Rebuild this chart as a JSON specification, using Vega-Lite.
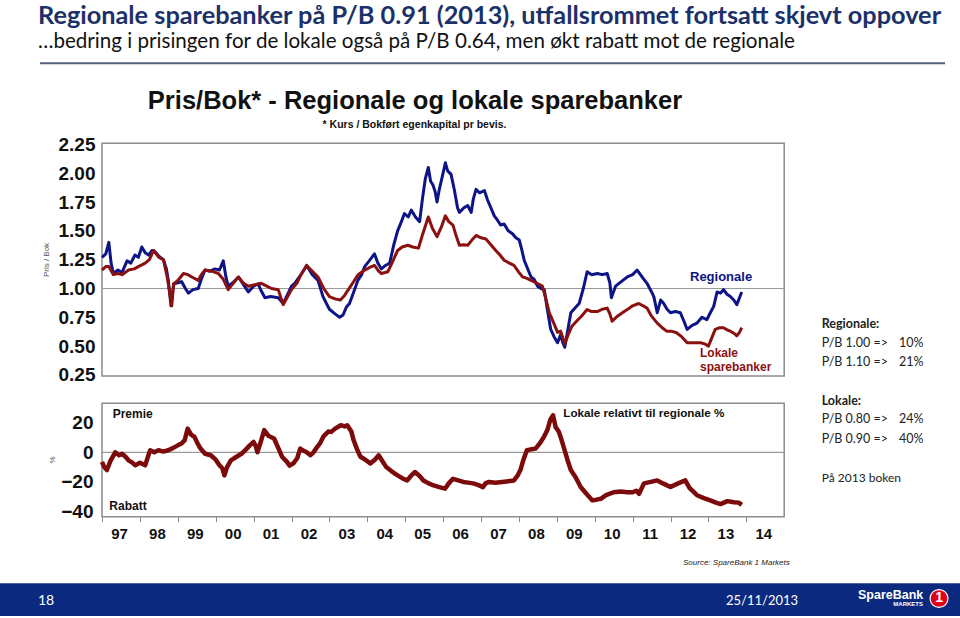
{
"$schema": "https://vega.github.io/schema/vega-lite/v6.json",
"width": 960, "height": 618,
"autosize": {"type": "fit", "contains": "padding"},
"padding": 0,
"background": "#ffffff",
"config": {"view": {"stroke": null}},
"data": {"values": [{}]},
"datasets": {
"pb": [
{"t":1997.00,"serie":"Regionale","v":1.27},{"t":1997.10,"serie":"Regionale","v":1.30},{"t":1997.18,"serie":"Regionale","v":1.40},{"t":1997.24,"serie":"Regionale","v":1.22},{"t":1997.30,"serie":"Regionale","v":1.13},{"t":1997.42,"serie":"Regionale","v":1.16},{"t":1997.53,"serie":"Regionale","v":1.14},{"t":1997.66,"serie":"Regionale","v":1.24},{"t":1997.76,"serie":"Regionale","v":1.22},{"t":1997.87,"serie":"Regionale","v":1.29},{"t":1997.96,"serie":"Regionale","v":1.27},{"t":1998.05,"serie":"Regionale","v":1.36},{"t":1998.14,"serie":"Regionale","v":1.31},{"t":1998.23,"serie":"Regionale","v":1.29},{"t":1998.32,"serie":"Regionale","v":1.33},{"t":1998.40,"serie":"Regionale","v":1.32},{"t":1998.50,"serie":"Regionale","v":1.28},{"t":1998.62,"serie":"Regionale","v":1.25},{"t":1998.70,"serie":"Regionale","v":1.17},{"t":1998.75,"serie":"Regionale","v":1.07},{"t":1998.82,"serie":"Regionale","v":0.85},{"t":1998.89,"serie":"Regionale","v":1.04},{"t":1999.00,"serie":"Regionale","v":1.05},{"t":1999.10,"serie":"Regionale","v":1.06},{"t":1999.20,"serie":"Regionale","v":1.00},{"t":1999.28,"serie":"Regionale","v":0.96},{"t":1999.40,"serie":"Regionale","v":0.99},{"t":1999.54,"serie":"Regionale","v":1.00},{"t":1999.62,"serie":"Regionale","v":1.08},{"t":1999.72,"serie":"Regionale","v":1.16},{"t":1999.85,"serie":"Regionale","v":1.15},{"t":1999.98,"serie":"Regionale","v":1.17},{"t":2000.10,"serie":"Regionale","v":1.16},{"t":2000.20,"serie":"Regionale","v":1.24},{"t":2000.27,"serie":"Regionale","v":1.10},{"t":2000.33,"serie":"Regionale","v":1.02},{"t":2000.45,"serie":"Regionale","v":1.05},{"t":2000.60,"serie":"Regionale","v":1.10},{"t":2000.72,"serie":"Regionale","v":1.04},{"t":2000.86,"serie":"Regionale","v":0.97},{"t":2001.00,"serie":"Regionale","v":1.02},{"t":2001.12,"serie":"Regionale","v":1.04},{"t":2001.20,"serie":"Regionale","v":0.98},{"t":2001.30,"serie":"Regionale","v":0.92},{"t":2001.45,"serie":"Regionale","v":0.93},{"t":2001.65,"serie":"Regionale","v":0.92},{"t":2001.78,"serie":"Regionale","v":0.87},{"t":2001.90,"serie":"Regionale","v":0.95},{"t":2002.00,"serie":"Regionale","v":1.02},{"t":2002.10,"serie":"Regionale","v":1.05},{"t":2002.25,"serie":"Regionale","v":1.12},{"t":2002.40,"serie":"Regionale","v":1.20},{"t":2002.55,"serie":"Regionale","v":1.12},{"t":2002.70,"serie":"Regionale","v":1.07},{"t":2002.83,"serie":"Regionale","v":0.93},{"t":2003.00,"serie":"Regionale","v":0.82},{"t":2003.15,"serie":"Regionale","v":0.78},{"t":2003.27,"serie":"Regionale","v":0.75},{"t":2003.36,"serie":"Regionale","v":0.77},{"t":2003.45,"serie":"Regionale","v":0.84},{"t":2003.53,"serie":"Regionale","v":0.87},{"t":2003.62,"serie":"Regionale","v":0.95},{"t":2003.75,"serie":"Regionale","v":1.07},{"t":2003.85,"serie":"Regionale","v":1.12},{"t":2003.93,"serie":"Regionale","v":1.19},{"t":2004.05,"serie":"Regionale","v":1.24},{"t":2004.19,"serie":"Regionale","v":1.30},{"t":2004.28,"serie":"Regionale","v":1.22},{"t":2004.37,"serie":"Regionale","v":1.17},{"t":2004.48,"serie":"Regionale","v":1.20},{"t":2004.59,"serie":"Regionale","v":1.22},{"t":2004.70,"serie":"Regionale","v":1.38},{"t":2004.80,"serie":"Regionale","v":1.50},{"t":2004.90,"serie":"Regionale","v":1.58},{"t":2004.98,"serie":"Regionale","v":1.65},{"t":2005.08,"serie":"Regionale","v":1.62},{"t":2005.16,"serie":"Regionale","v":1.68},{"t":2005.27,"serie":"Regionale","v":1.62},{"t":2005.38,"serie":"Regionale","v":1.58},{"t":2005.46,"serie":"Regionale","v":1.79},{"t":2005.53,"serie":"Regionale","v":1.95},{"t":2005.61,"serie":"Regionale","v":2.05},{"t":2005.67,"serie":"Regionale","v":1.93},{"t":2005.73,"serie":"Regionale","v":1.90},{"t":2005.79,"serie":"Regionale","v":1.84},{"t":2005.84,"serie":"Regionale","v":1.75},{"t":2005.90,"serie":"Regionale","v":1.86},{"t":2005.95,"serie":"Regionale","v":1.93},{"t":2006.06,"serie":"Regionale","v":2.09},{"t":2006.12,"serie":"Regionale","v":2.02},{"t":2006.21,"serie":"Regionale","v":1.99},{"t":2006.30,"serie":"Regionale","v":1.85},{"t":2006.38,"serie":"Regionale","v":1.70},{"t":2006.43,"serie":"Regionale","v":1.66},{"t":2006.55,"serie":"Regionale","v":1.70},{"t":2006.65,"serie":"Regionale","v":1.72},{"t":2006.74,"serie":"Regionale","v":1.66},{"t":2006.80,"serie":"Regionale","v":1.78},{"t":2006.87,"serie":"Regionale","v":1.86},{"t":2006.96,"serie":"Regionale","v":1.83},{"t":2007.09,"serie":"Regionale","v":1.85},{"t":2007.17,"serie":"Regionale","v":1.77},{"t":2007.26,"serie":"Regionale","v":1.70},{"t":2007.35,"serie":"Regionale","v":1.63},{"t":2007.44,"serie":"Regionale","v":1.59},{"t":2007.52,"serie":"Regionale","v":1.55},{"t":2007.61,"serie":"Regionale","v":1.56},{"t":2007.72,"serie":"Regionale","v":1.50},{"t":2007.83,"serie":"Regionale","v":1.475},{"t":2007.92,"serie":"Regionale","v":1.44},{"t":2008.01,"serie":"Regionale","v":1.42},{"t":2008.08,"serie":"Regionale","v":1.33},{"t":2008.14,"serie":"Regionale","v":1.245},{"t":2008.22,"serie":"Regionale","v":1.18},{"t":2008.32,"serie":"Regionale","v":1.10},{"t":2008.40,"serie":"Regionale","v":1.08},{"t":2008.49,"serie":"Regionale","v":1.02},{"t":2008.58,"serie":"Regionale","v":1.00},{"t":2008.67,"serie":"Regionale","v":0.99},{"t":2008.75,"serie":"Regionale","v":0.82},{"t":2008.84,"serie":"Regionale","v":0.645},{"t":2008.93,"serie":"Regionale","v":0.58},{"t":2009.02,"serie":"Regionale","v":0.53},{"t":2009.10,"serie":"Regionale","v":0.60},{"t":2009.16,"serie":"Regionale","v":0.53},{"t":2009.21,"serie":"Regionale","v":0.49},{"t":2009.28,"serie":"Regionale","v":0.62},{"t":2009.37,"serie":"Regionale","v":0.79},{"t":2009.48,"serie":"Regionale","v":0.83},{"t":2009.59,"serie":"Regionale","v":0.87},{"t":2009.70,"serie":"Regionale","v":1.00},{"t":2009.80,"serie":"Regionale","v":1.145},{"t":2009.92,"serie":"Regionale","v":1.12},{"t":2010.07,"serie":"Regionale","v":1.13},{"t":2010.20,"serie":"Regionale","v":1.12},{"t":2010.33,"serie":"Regionale","v":1.13},{"t":2010.40,"serie":"Regionale","v":1.05},{"t":2010.44,"serie":"Regionale","v":0.92},{"t":2010.55,"serie":"Regionale","v":1.02},{"t":2010.70,"serie":"Regionale","v":1.06},{"t":2010.86,"serie":"Regionale","v":1.10},{"t":2011.00,"serie":"Regionale","v":1.12},{"t":2011.12,"serie":"Regionale","v":1.16},{"t":2011.25,"serie":"Regionale","v":1.10},{"t":2011.38,"serie":"Regionale","v":1.045},{"t":2011.50,"serie":"Regionale","v":0.97},{"t":2011.56,"serie":"Regionale","v":0.93},{"t":2011.65,"serie":"Regionale","v":0.79},{"t":2011.74,"serie":"Regionale","v":0.90},{"t":2011.82,"serie":"Regionale","v":0.87},{"t":2011.91,"serie":"Regionale","v":0.82},{"t":2012.00,"serie":"Regionale","v":0.79},{"t":2012.13,"serie":"Regionale","v":0.80},{"t":2012.26,"serie":"Regionale","v":0.79},{"t":2012.35,"serie":"Regionale","v":0.72},{"t":2012.44,"serie":"Regionale","v":0.645},{"t":2012.57,"serie":"Regionale","v":0.68},{"t":2012.70,"serie":"Regionale","v":0.70},{"t":2012.83,"serie":"Regionale","v":0.75},{"t":2012.96,"serie":"Regionale","v":0.73},{"t":2013.05,"serie":"Regionale","v":0.79},{"t":2013.14,"serie":"Regionale","v":0.845},{"t":2013.23,"serie":"Regionale","v":0.97},{"t":2013.32,"serie":"Regionale","v":0.96},{"t":2013.40,"serie":"Regionale","v":0.99},{"t":2013.49,"serie":"Regionale","v":0.95},{"t":2013.58,"serie":"Regionale","v":0.93},{"t":2013.67,"serie":"Regionale","v":0.90},{"t":2013.75,"serie":"Regionale","v":0.86},{"t":2013.82,"serie":"Regionale","v":0.92},{"t":2013.88,"serie":"Regionale","v":0.97},
{"t":1997.00,"serie":"Lokale","v":1.16},{"t":1997.10,"serie":"Lokale","v":1.19},{"t":1997.18,"serie":"Lokale","v":1.19},{"t":1997.30,"serie":"Lokale","v":1.12},{"t":1997.42,"serie":"Lokale","v":1.13},{"t":1997.53,"serie":"Lokale","v":1.12},{"t":1997.70,"serie":"Lokale","v":1.16},{"t":1997.85,"serie":"Lokale","v":1.17},{"t":1997.96,"serie":"Lokale","v":1.19},{"t":1998.14,"serie":"Lokale","v":1.22},{"t":1998.25,"serie":"Lokale","v":1.25},{"t":1998.36,"serie":"Lokale","v":1.33},{"t":1998.50,"serie":"Lokale","v":1.27},{"t":1998.62,"serie":"Lokale","v":1.25},{"t":1998.72,"serie":"Lokale","v":1.10},{"t":1998.80,"serie":"Lokale","v":0.93},{"t":1998.84,"serie":"Lokale","v":0.85},{"t":1998.89,"serie":"Lokale","v":1.04},{"t":1999.00,"serie":"Lokale","v":1.07},{"t":1999.15,"serie":"Lokale","v":1.13},{"t":1999.27,"serie":"Lokale","v":1.12},{"t":1999.37,"serie":"Lokale","v":1.10},{"t":1999.54,"serie":"Lokale","v":1.07},{"t":1999.62,"serie":"Lokale","v":1.12},{"t":1999.72,"serie":"Lokale","v":1.16},{"t":1999.90,"serie":"Lokale","v":1.15},{"t":2000.07,"serie":"Lokale","v":1.13},{"t":2000.20,"serie":"Lokale","v":1.08},{"t":2000.33,"serie":"Lokale","v":0.99},{"t":2000.45,"serie":"Lokale","v":1.04},{"t":2000.60,"serie":"Lokale","v":1.10},{"t":2000.72,"serie":"Lokale","v":1.05},{"t":2000.86,"serie":"Lokale","v":1.02},{"t":2001.00,"serie":"Lokale","v":1.03},{"t":2001.20,"serie":"Lokale","v":1.045},{"t":2001.35,"serie":"Lokale","v":1.02},{"t":2001.47,"serie":"Lokale","v":1.00},{"t":2001.65,"serie":"Lokale","v":0.99},{"t":2001.78,"serie":"Lokale","v":0.86},{"t":2001.90,"serie":"Lokale","v":0.93},{"t":2002.00,"serie":"Lokale","v":0.99},{"t":2002.15,"serie":"Lokale","v":1.05},{"t":2002.25,"serie":"Lokale","v":1.12},{"t":2002.40,"serie":"Lokale","v":1.20},{"t":2002.55,"serie":"Lokale","v":1.15},{"t":2002.70,"serie":"Lokale","v":1.10},{"t":2002.85,"serie":"Lokale","v":1.00},{"t":2003.00,"serie":"Lokale","v":0.93},{"t":2003.15,"serie":"Lokale","v":0.91},{"t":2003.29,"serie":"Lokale","v":0.90},{"t":2003.40,"serie":"Lokale","v":0.94},{"t":2003.50,"serie":"Lokale","v":0.99},{"t":2003.62,"serie":"Lokale","v":1.05},{"t":2003.75,"serie":"Lokale","v":1.117},{"t":2003.93,"serie":"Lokale","v":1.16},{"t":2004.05,"serie":"Lokale","v":1.18},{"t":2004.19,"serie":"Lokale","v":1.20},{"t":2004.30,"serie":"Lokale","v":1.15},{"t":2004.37,"serie":"Lokale","v":1.13},{"t":2004.54,"serie":"Lokale","v":1.145},{"t":2004.65,"serie":"Lokale","v":1.22},{"t":2004.80,"serie":"Lokale","v":1.33},{"t":2004.92,"serie":"Lokale","v":1.36},{"t":2005.07,"serie":"Lokale","v":1.375},{"t":2005.20,"serie":"Lokale","v":1.36},{"t":2005.35,"serie":"Lokale","v":1.35},{"t":2005.45,"serie":"Lokale","v":1.46},{"t":2005.61,"serie":"Lokale","v":1.62},{"t":2005.72,"serie":"Lokale","v":1.52},{"t":2005.84,"serie":"Lokale","v":1.45},{"t":2005.95,"serie":"Lokale","v":1.53},{"t":2006.06,"serie":"Lokale","v":1.63},{"t":2006.15,"serie":"Lokale","v":1.58},{"t":2006.26,"serie":"Lokale","v":1.55},{"t":2006.35,"serie":"Lokale","v":1.45},{"t":2006.43,"serie":"Lokale","v":1.375},{"t":2006.55,"serie":"Lokale","v":1.38},{"t":2006.65,"serie":"Lokale","v":1.375},{"t":2006.76,"serie":"Lokale","v":1.42},{"t":2006.87,"serie":"Lokale","v":1.46},{"t":2007.00,"serie":"Lokale","v":1.44},{"t":2007.13,"serie":"Lokale","v":1.43},{"t":2007.26,"serie":"Lokale","v":1.38},{"t":2007.39,"serie":"Lokale","v":1.33},{"t":2007.50,"serie":"Lokale","v":1.29},{"t":2007.61,"serie":"Lokale","v":1.245},{"t":2007.75,"serie":"Lokale","v":1.22},{"t":2007.87,"serie":"Lokale","v":1.20},{"t":2008.00,"serie":"Lokale","v":1.14},{"t":2008.10,"serie":"Lokale","v":1.10},{"t":2008.20,"serie":"Lokale","v":1.09},{"t":2008.32,"serie":"Lokale","v":1.07},{"t":2008.45,"serie":"Lokale","v":1.05},{"t":2008.62,"serie":"Lokale","v":1.02},{"t":2008.72,"serie":"Lokale","v":0.90},{"t":2008.80,"serie":"Lokale","v":0.79},{"t":2008.92,"serie":"Lokale","v":0.70},{"t":2009.02,"serie":"Lokale","v":0.62},{"t":2009.10,"serie":"Lokale","v":0.63},{"t":2009.16,"serie":"Lokale","v":0.57},{"t":2009.21,"serie":"Lokale","v":0.52},{"t":2009.30,"serie":"Lokale","v":0.60},{"t":2009.40,"serie":"Lokale","v":0.673},{"t":2009.52,"serie":"Lokale","v":0.716},{"t":2009.65,"serie":"Lokale","v":0.76},{"t":2009.80,"serie":"Lokale","v":0.817},{"t":2009.92,"serie":"Lokale","v":0.80},{"t":2010.07,"serie":"Lokale","v":0.80},{"t":2010.20,"serie":"Lokale","v":0.82},{"t":2010.33,"serie":"Lokale","v":0.83},{"t":2010.40,"serie":"Lokale","v":0.78},{"t":2010.46,"serie":"Lokale","v":0.716},{"t":2010.60,"serie":"Lokale","v":0.76},{"t":2010.73,"serie":"Lokale","v":0.79},{"t":2010.86,"serie":"Lokale","v":0.817},{"t":2011.00,"serie":"Lokale","v":0.85},{"t":2011.16,"serie":"Lokale","v":0.87},{"t":2011.28,"serie":"Lokale","v":0.85},{"t":2011.38,"serie":"Lokale","v":0.83},{"t":2011.50,"serie":"Lokale","v":0.76},{"t":2011.65,"serie":"Lokale","v":0.70},{"t":2011.78,"serie":"Lokale","v":0.66},{"t":2011.90,"serie":"Lokale","v":0.63},{"t":2012.02,"serie":"Lokale","v":0.63},{"t":2012.16,"serie":"Lokale","v":0.616},{"t":2012.30,"serie":"Lokale","v":0.58},{"t":2012.44,"serie":"Lokale","v":0.53},{"t":2012.60,"serie":"Lokale","v":0.53},{"t":2012.79,"serie":"Lokale","v":0.53},{"t":2012.90,"serie":"Lokale","v":0.52},{"t":2013.00,"serie":"Lokale","v":0.50},{"t":2013.10,"serie":"Lokale","v":0.58},{"t":2013.18,"serie":"Lokale","v":0.645},{"t":2013.30,"serie":"Lokale","v":0.66},{"t":2013.40,"serie":"Lokale","v":0.66},{"t":2013.50,"serie":"Lokale","v":0.64},{"t":2013.58,"serie":"Lokale","v":0.63},{"t":2013.68,"serie":"Lokale","v":0.61},{"t":2013.75,"serie":"Lokale","v":0.59},{"t":2013.82,"serie":"Lokale","v":0.62},{"t":2013.88,"serie":"Lokale","v":0.66}
],
"prem": [
{"t":1997.00,"p":-6.5},{"t":1997.06,"p":-10},{"t":1997.13,"p":-12},{"t":1997.22,"p":-6},{"t":1997.35,"p":0},{"t":1997.45,"p":-2},{"t":1997.53,"p":-1},{"t":1997.62,"p":-3},{"t":1997.70,"p":-5.4},{"t":1997.80,"p":-7},{"t":1997.88,"p":-8.8},{"t":1998.00,"p":-7},{"t":1998.14,"p":-8.8},{"t":1998.20,"p":-4},{"t":1998.27,"p":1.4},{"t":1998.38,"p":0},{"t":1998.49,"p":1.4},{"t":1998.62,"p":0.5},{"t":1998.75,"p":1.4},{"t":1998.88,"p":3},{"t":1999.00,"p":4.7},{"t":1999.10,"p":6},{"t":1999.18,"p":8},{"t":1999.26,"p":16},{"t":1999.35,"p":12},{"t":1999.44,"p":10.4},{"t":1999.52,"p":6},{"t":1999.60,"p":2.5},{"t":1999.72,"p":-1},{"t":1999.87,"p":-2},{"t":2000.00,"p":-5},{"t":2000.10,"p":-8.8},{"t":2000.18,"p":-11},{"t":2000.23,"p":-15.6},{"t":2000.30,"p":-10},{"t":2000.40,"p":-5.4},{"t":2000.55,"p":-3},{"t":2000.68,"p":-1},{"t":2000.80,"p":2},{"t":2000.90,"p":4.7},{"t":2001.00,"p":7},{"t":2001.06,"p":4},{"t":2001.10,"p":0},{"t":2001.20,"p":8},{"t":2001.28,"p":15},{"t":2001.40,"p":11},{"t":2001.54,"p":9.3},{"t":2001.65,"p":3},{"t":2001.75,"p":-3},{"t":2001.88,"p":-6.5},{"t":2001.95,"p":-9},{"t":2002.05,"p":-7.5},{"t":2002.15,"p":-4},{"t":2002.23,"p":2.5},{"t":2002.32,"p":1},{"t":2002.40,"p":0},{"t":2002.50,"p":-2},{"t":2002.58,"p":0},{"t":2002.66,"p":3},{"t":2002.75,"p":6},{"t":2002.85,"p":11},{"t":2002.97,"p":14},{"t":2003.05,"p":13.8},{"t":2003.15,"p":16},{"t":2003.30,"p":18.3},{"t":2003.40,"p":17.5},{"t":2003.47,"p":18.3},{"t":2003.58,"p":14},{"t":2003.64,"p":8.1},{"t":2003.73,"p":2},{"t":2003.82,"p":-3},{"t":2003.95,"p":-5},{"t":2004.08,"p":-7.6},{"t":2004.20,"p":-5},{"t":2004.30,"p":-2},{"t":2004.40,"p":-6},{"t":2004.50,"p":-10},{"t":2004.65,"p":-13},{"t":2004.80,"p":-15.6},{"t":2004.92,"p":-17.5},{"t":2005.05,"p":-19},{"t":2005.15,"p":-16},{"t":2005.26,"p":-13.3},{"t":2005.38,"p":-16},{"t":2005.48,"p":-19},{"t":2005.62,"p":-21},{"t":2005.75,"p":-22.4},{"t":2005.90,"p":-23.5},{"t":2006.05,"p":-24.6},{"t":2006.15,"p":-21},{"t":2006.26,"p":-17.9},{"t":2006.40,"p":-19},{"t":2006.53,"p":-20},{"t":2006.66,"p":-20.5},{"t":2006.79,"p":-21},{"t":2006.92,"p":-22},{"t":2007.05,"p":-23.5},{"t":2007.12,"p":-21},{"t":2007.21,"p":-20},{"t":2007.38,"p":-20.5},{"t":2007.56,"p":-20},{"t":2007.72,"p":-19.5},{"t":2007.87,"p":-19},{"t":2007.96,"p":-16},{"t":2008.04,"p":-12},{"t":2008.12,"p":-5},{"t":2008.21,"p":1.4},{"t":2008.32,"p":2},{"t":2008.44,"p":2.5},{"t":2008.55,"p":6},{"t":2008.66,"p":10.4},{"t":2008.75,"p":15},{"t":2008.83,"p":22},{"t":2008.90,"p":25},{"t":2008.97,"p":17},{"t":2009.05,"p":14},{"t":2009.10,"p":10.4},{"t":2009.20,"p":2},{"t":2009.28,"p":-5},{"t":2009.37,"p":-12},{"t":2009.50,"p":-17},{"t":2009.63,"p":-23.5},{"t":2009.78,"p":-28},{"t":2009.94,"p":-32.5},{"t":2010.05,"p":-32},{"t":2010.16,"p":-31.4},{"t":2010.30,"p":-29},{"t":2010.50,"p":-27},{"t":2010.68,"p":-26.5},{"t":2010.86,"p":-27},{"t":2011.00,"p":-27},{"t":2011.10,"p":-26},{"t":2011.17,"p":-28},{"t":2011.30,"p":-21},{"t":2011.48,"p":-20},{"t":2011.65,"p":-19},{"t":2011.80,"p":-21},{"t":2012.00,"p":-23.5},{"t":2012.20,"p":-21},{"t":2012.39,"p":-19},{"t":2012.50,"p":-24},{"t":2012.70,"p":-29},{"t":2012.88,"p":-31},{"t":2013.05,"p":-32.5},{"t":2013.20,"p":-34},{"t":2013.32,"p":-35},{"t":2013.50,"p":-33},{"t":2013.67,"p":-33.7},{"t":2013.80,"p":-34},{"t":2013.88,"p":-35.5}
]
},
"resolve": {"scale": {"y": "independent"}, "axis": {"y": "independent"}},
"layer": [
{
"layer": [
{"mark": {"type": "rect", "fillOpacity": 0, "stroke": "#8c8c8c", "strokeWidth": 1.5},
 "encoding": {"x": {"datum": 1997, "type": "quantitative"}, "x2": {"datum": 2015}, "y": {"datum": 0.2411, "type": "quantitative"}, "y2": {"datum": 2.2593}}},
{"mark": {"type": "rule", "stroke": "#9a9a9a", "strokeWidth": 1.2},
 "encoding": {"x": {"datum": 1997, "type": "quantitative"}, "x2": {"datum": 2015}, "y": {"datum": 1, "type": "quantitative"}}},
{"data": {"name": "pb"}, "transform": [{"filter": "datum.serie === 'Regionale'"}],
 "mark": {"type": "line", "stroke": "#0c1487", "strokeWidth": 3, "strokeJoin": "round"},
 "encoding": {
  "x": {"field": "t", "type": "quantitative", "title": null, "scale": {"domain": [1994.3087, 2019.6385], "nice": false, "zero": false}},
  "y": {"field": "v", "type": "quantitative", "title": null, "scale": {"domain": [-1.8578, 3.5022], "nice": false, "zero": false},
   "axis": {"values": [0.25, 0.5, 0.75, 1, 1.25, 1.5, 1.75, 2, 2.25], "format": ".2f", "orient": "left", "offset": -102, "domain": false, "ticks": false, "grid": false, "labelFont": "Liberation Sans", "labelFontSize": 19, "labelFontWeight": "bold", "labelColor": "#111111", "labelPadding": 7, "labelOverlap": false, "labelFlush": false, "labelBound": false, "title": null}}}},
{"data": {"name": "pb"}, "transform": [{"filter": "datum.serie === 'Lokale'"}],
 "mark": {"type": "line", "stroke": "#8b1111", "strokeWidth": 3, "strokeJoin": "round"},
 "encoding": {
  "x": {"field": "t", "type": "quantitative", "title": null},
  "y": {"field": "v", "type": "quantitative", "title": null}}},
{"mark": {"type": "text", "text": "Regionale", "font": "Liberation Sans", "fontSize": 13, "fontWeight": "bold", "fill": "#0c1487", "align": "left", "baseline": "middle"},
 "encoding": {"x": {"datum": 2012.5145, "type": "quantitative"}, "y": {"datum": 1.0971, "type": "quantitative"}}},
{"mark": {"type": "text", "text": "Lokale", "font": "Liberation Sans", "fontSize": 12, "fontWeight": "bold", "fill": "#8b1111", "align": "left", "baseline": "middle"},
 "encoding": {"x": {"datum": 2012.778, "type": "quantitative"}, "y": {"datum": 0.438, "type": "quantitative"}}},
{"mark": {"type": "text", "text": "sparebanker", "font": "Liberation Sans", "fontSize": 12, "fontWeight": "bold", "fill": "#8b1111", "align": "left", "baseline": "middle"},
 "encoding": {"x": {"datum": 2012.778, "type": "quantitative"}, "y": {"datum": 0.3166, "type": "quantitative"}}},
{"mark": {"type": "text", "text": "Pris/Bok* - Regionale og  lokale sparebanker", "font": "Liberation Sans", "fontSize": 25.5, "fontWeight": "bold", "fill": "#111111", "align": "center", "baseline": "middle"},
 "encoding": {"x": {"datum": 2005.2586, "type": "quantitative"}, "y": {"datum": 2.6262, "type": "quantitative"}}},
{"mark": {"type": "text", "text": "* Kurs / Bokført egenkapital pr bevis.", "font": "Liberation Sans", "fontSize": 10.5, "fontWeight": "bold", "fill": "#111111", "align": "center", "baseline": "middle"},
 "encoding": {"x": {"datum": 2005.2454, "type": "quantitative"}, "y": {"datum": 2.418, "type": "quantitative"}}},
{"mark": {"type": "text", "text": "Pris / Bok", "font": "Liberation Sans", "fontSize": 8, "fill": "#555555", "align": "center", "baseline": "middle", "angle": 270},
 "encoding": {"x": {"datum": 1995.5488, "type": "quantitative"}, "y": {"datum": 1.2472, "type": "quantitative"}}},
{"mark": {"type": "text", "text": "Regionale sparebanker på P/B 0.91 (2013), utfallsrommet fortsatt skjevt oppover", "font": "Lato", "fontSize": 25.3, "fontWeight": "bold", "fill": "#1c3169", "align": "left", "baseline": "middle"},
 "encoding": {"x": {"datum": 1995.311, "type": "quantitative"}, "y": {"datum": 3.3677, "type": "quantitative"}}},
{"mark": {"type": "text", "text": "…bedring i prisingen for de lokale også på P/B 0.64, men økt rabatt mot de regionale", "font": "Lato", "fontSize": 20.6, "fill": "#111111", "align": "left", "baseline": "middle"},
 "encoding": {"x": {"datum": 1995.311, "type": "quantitative"}, "y": {"datum": 3.1422, "type": "quantitative"}}},
{"mark": {"type": "rule", "stroke": "#56627a", "strokeWidth": 2},
 "encoding": {"x": {"datum": 1995.3641, "type": "quantitative"}, "x2": {"datum": 2019.2427}, "y": {"datum": 2.9532, "type": "quantitative"}}},
{"mark": {"type": "text", "text": "Regionale:", "font": "Lato", "fontSize": 12.5, "fontWeight": "bold", "fill": "#222222", "align": "left", "baseline": "middle"},
 "encoding": {"x": {"datum": 2015.9894, "type": "quantitative"}, "y": {"datum": 0.6921, "type": "quantitative"}}},
{"mark": {"type": "text", "text": "P/B 1.00 =>", "font": "Lato", "fontSize": 12.5, "fill": "#222222", "align": "left", "baseline": "middle"},
 "encoding": {"x": {"datum": 2015.9894, "type": "quantitative"}, "y": {"datum": 0.5299, "type": "quantitative"}}},
{"mark": {"type": "text", "text": "10%", "font": "Lato", "fontSize": 12.5, "fill": "#222222", "align": "left", "baseline": "middle"},
 "encoding": {"x": {"datum": 2018.029, "type": "quantitative"}, "y": {"datum": 0.5299, "type": "quantitative"}}},
{"mark": {"type": "text", "text": "P/B 1.10 =>", "font": "Lato", "fontSize": 12.5, "fill": "#222222", "align": "left", "baseline": "middle"},
 "encoding": {"x": {"datum": 2015.9894, "type": "quantitative"}, "y": {"datum": 0.3625, "type": "quantitative"}}},
{"mark": {"type": "text", "text": "21%", "font": "Lato", "fontSize": 12.5, "fill": "#222222", "align": "left", "baseline": "middle"},
 "encoding": {"x": {"datum": 2018.029, "type": "quantitative"}, "y": {"datum": 0.3625, "type": "quantitative"}}},
{"mark": {"type": "text", "text": "Lokale:", "font": "Lato", "fontSize": 12.5, "fontWeight": "bold", "fill": "#222222", "align": "left", "baseline": "middle"},
 "encoding": {"x": {"datum": 2015.9894, "type": "quantitative"}, "y": {"datum": 0.0269, "type": "quantitative"}}},
{"mark": {"type": "text", "text": "P/B 0.80 =>", "font": "Lato", "fontSize": 12.5, "fill": "#222222", "align": "left", "baseline": "middle"},
 "encoding": {"x": {"datum": 2015.9894, "type": "quantitative"}, "y": {"datum": -0.1344, "type": "quantitative"}}},
{"mark": {"type": "text", "text": "24%", "font": "Lato", "fontSize": 12.5, "fill": "#222222", "align": "left", "baseline": "middle"},
 "encoding": {"x": {"datum": 2018.029, "type": "quantitative"}, "y": {"datum": -0.1344, "type": "quantitative"}}},
{"mark": {"type": "text", "text": "P/B 0.90 =>", "font": "Lato", "fontSize": 12.5, "fill": "#222222", "align": "left", "baseline": "middle"},
 "encoding": {"x": {"datum": 2015.9894, "type": "quantitative"}, "y": {"datum": -0.3027, "type": "quantitative"}}},
{"mark": {"type": "text", "text": "40%", "font": "Lato", "fontSize": 12.5, "fill": "#222222", "align": "left", "baseline": "middle"},
 "encoding": {"x": {"datum": 2018.029, "type": "quantitative"}, "y": {"datum": -0.3027, "type": "quantitative"}}},
{"mark": {"type": "text", "text": "På 2013 boken", "font": "Lato", "fontSize": 12, "fill": "#222222", "align": "left", "baseline": "middle"},
 "encoding": {"x": {"datum": 2015.9894, "type": "quantitative"}, "y": {"datum": -0.6461, "type": "quantitative"}}},
{"mark": {"type": "text", "text": "Source: SpareBank 1 Markets", "font": "Liberation Sans", "fontSize": 8, "fontStyle": "italic", "fill": "#222222", "align": "left", "baseline": "middle"},
 "encoding": {"x": {"datum": 2012.3298, "type": "quantitative"}, "y": {"datum": -1.3782, "type": "quantitative"}}},
{"mark": {"type": "rect", "fill": "#0b2a7f"},
 "encoding": {"x": {"datum": 1994.3087, "type": "quantitative"}, "x2": {"datum": 2019.6385}, "y": {"datum": -1.5568, "type": "quantitative"}, "y2": {"datum": -1.8404}}},
{"mark": {"type": "text", "text": "18", "font": "Lato", "fontSize": 14, "fill": "#ffffff", "align": "left", "baseline": "middle"},
 "encoding": {"x": {"datum": 1995.311, "type": "quantitative"}, "y": {"datum": -1.7103, "type": "quantitative"}}},
{"mark": {"type": "text", "text": "25/11/2013", "font": "Lato", "fontSize": 13, "fill": "#ffffff", "align": "left", "baseline": "middle"},
 "encoding": {"x": {"datum": 2013.4644, "type": "quantitative"}, "y": {"datum": -1.7103, "type": "quantitative"}}},
{"mark": {"type": "text", "text": "SpareBank", "font": "Liberation Sans", "fontSize": 12.5, "fontWeight": "bold", "fill": "#ffffff", "align": "left", "baseline": "middle"},
 "encoding": {"x": {"datum": 2016.9472, "type": "quantitative"}, "y": {"datum": -1.6583, "type": "quantitative"}}},
{"mark": {"type": "text", "text": "MARKETS", "font": "Liberation Sans", "fontSize": 6, "fontWeight": "bold", "fill": "#ffffff", "align": "right", "baseline": "middle"},
 "encoding": {"x": {"datum": 2018.6623, "type": "quantitative"}, "y": {"datum": -1.7406, "type": "quantitative"}}},
{"mark": {"type": "point", "filled": true, "fill": "#e2001a", "stroke": "#ffffff", "strokeWidth": 1.2, "size": 320, "shape": "circle", "opacity": 1},
 "encoding": {"x": {"datum": 2019.085, "type": "quantitative"}, "y": {"datum": -1.6886, "type": "quantitative"}}},
{"mark": {"type": "text", "text": "1", "font": "Liberation Sans", "fontSize": 14, "fontWeight": "bold", "fill": "#ffffff", "align": "center", "baseline": "middle"},
 "encoding": {"x": {"datum": 2019.085, "type": "quantitative"}, "y": {"datum": -1.6886, "type": "quantitative"}}}
]
},
{
"layer": [
{"mark": {"type": "rect", "fillOpacity": 0, "stroke": "#8c8c8c", "strokeWidth": 1.5},
 "encoding": {"x": {"datum": 1997, "type": "quantitative"}, "x2": {"datum": 2015}, "y": {"datum": -43.514, "type": "quantitative"}, "y2": {"datum": 33.108}}},
{"mark": {"type": "rule", "stroke": "#9a9a9a", "strokeWidth": 1.2},
 "encoding": {"x": {"datum": 1997, "type": "quantitative"}, "x2": {"datum": 2015}, "y": {"datum": 0, "type": "quantitative"}}},
{"data": {"name": "prem"},
 "mark": {"type": "line", "stroke": "#7d0a0a", "strokeWidth": 4.5, "strokeJoin": "round"},
 "encoding": {
  "x": {"field": "t", "type": "quantitative", "title": null, "scale": {"domain": [1994.3087, 2019.6385], "nice": false, "zero": false},
   "axis": {"values": [1997, 1998, 1999, 2000, 2001, 2002, 2003, 2004, 2005, 2006, 2007, 2008, 2009, 2010, 2011, 2012, 2013, 2014], "labelExpr": "slice(toString(datum.value), 2)", "orient": "bottom", "offset": -101.3, "domain": false, "grid": false, "ticks": true, "tickSize": 5, "tickColor": "#8c8c8c", "tickWidth": 1, "labelOffset": 17, "labelPadding": 5, "labelFont": "Liberation Sans", "labelFontSize": 15, "labelFontWeight": "bold", "labelColor": "#111111", "labelFlush": false, "labelOverlap": false, "labelBound": false, "title": null}},
  "y": {"field": "p", "type": "quantitative", "title": null, "scale": {"domain": [-111.9595, 305.6081], "nice": false, "zero": false},
   "axis": {"values": [-40, -20, 0, 20], "orient": "left", "offset": -102, "domain": false, "ticks": false, "grid": false, "labelFont": "Liberation Sans", "labelFontSize": 19, "labelFontWeight": "bold", "labelColor": "#111111", "labelPadding": 9, "labelOverlap": false, "labelFlush": false, "labelBound": false, "title": null}}}},
{"mark": {"type": "text", "text": "Premie", "font": "Liberation Sans", "fontSize": 12, "fontWeight": "bold", "fill": "#111111", "align": "left", "baseline": "middle"},
 "encoding": {"x": {"datum": 1997.2823, "type": "quantitative"}, "y": {"datum": 25.878, "type": "quantitative"}}},
{"mark": {"type": "text", "text": "Rabatt", "font": "Liberation Sans", "fontSize": 12, "fontWeight": "bold", "fill": "#111111", "align": "left", "baseline": "middle"},
 "encoding": {"x": {"datum": 1997.1926, "type": "quantitative"}, "y": {"datum": -36.284, "type": "quantitative"}}},
{"mark": {"type": "text", "text": "Lokale relativt til regionale %", "font": "Liberation Sans", "fontSize": 11.7, "fontWeight": "bold", "fill": "#111111", "align": "left", "baseline": "middle"},
 "encoding": {"x": {"datum": 2009.1715, "type": "quantitative"}, "y": {"datum": 26.351, "type": "quantitative"}}},
{"mark": {"type": "text", "text": "%", "font": "Liberation Sans", "fontSize": 8, "fill": "#555555", "align": "center", "baseline": "middle", "angle": 270},
 "encoding": {"x": {"datum": 1995.7071, "type": "quantitative"}, "y": {"datum": -5.2, "type": "quantitative"}}}
]
}
]
}
